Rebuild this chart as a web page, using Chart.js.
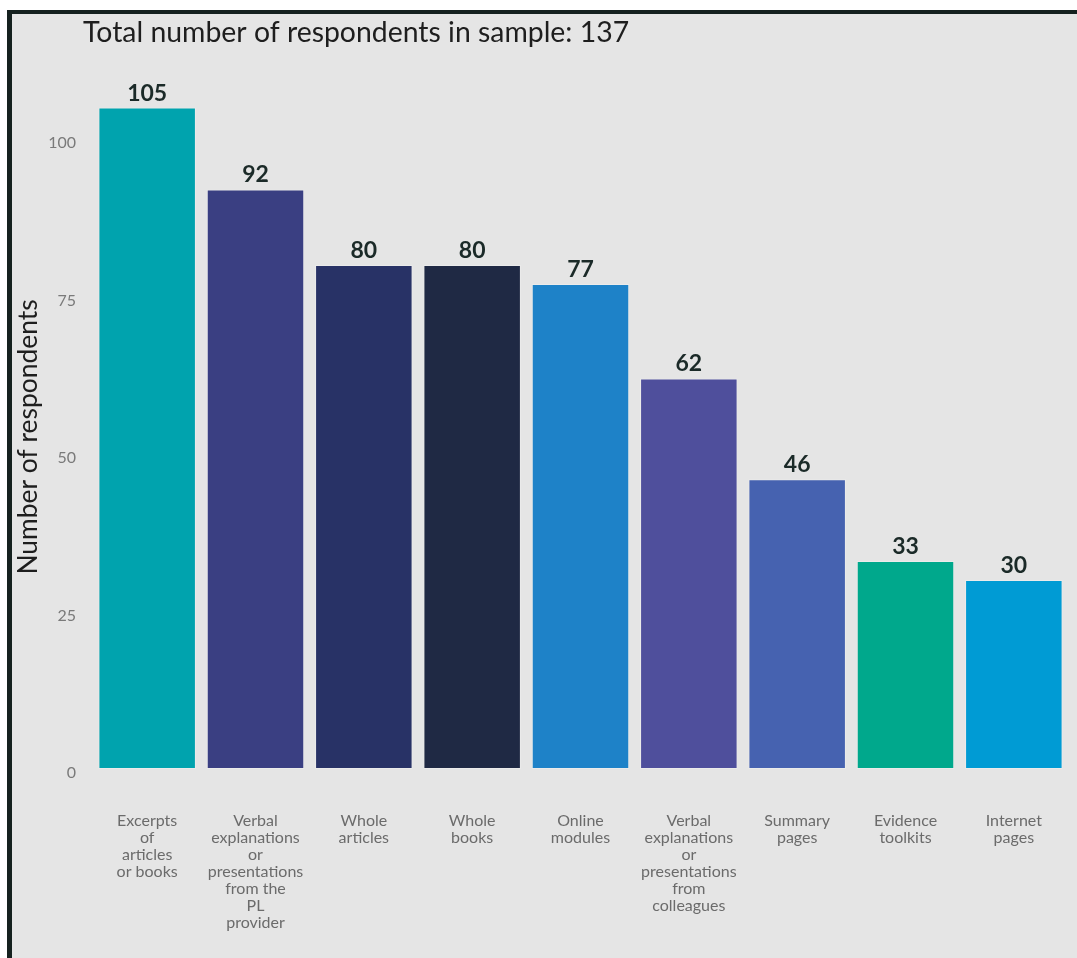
<!DOCTYPE html>
<html>
<head>
<meta charset="utf-8">
<title>Formats of research evidence used</title>
<script src="https://cdn.jsdelivr.net/npm/chart.js@4/dist/chart.umd.min.js"></script>
<style>
  html, body { margin: 0; padding: 0; background: #ffffff; }
  #frame {
    position: absolute; left: 7px; top: 10px;
    width: 1065px; height: 944px;
    background: #e5e5e5;
    border-top: 4px solid #15211f;
    border-left: 5px solid #15211f;
  }
  #wrap { position: absolute; left: 0; top: 0; width: 1077px; height: 958px; }
</style>
</head>
<body>
<div id="frame"></div>
<div id="wrap"><canvas id="chart" width="1077" height="958"></canvas></div>
<script>
// Formats of evidence and how many respondents reported using each
const headline = 'Total number of respondents in sample: 137';
const axisTitle = 'Number of respondents';
const categories = [
  ['Excerpts', 'of', 'articles', 'or books'],
  ['Verbal', 'explanations', 'or', 'presentations', 'from the', 'PL', 'provider'],
  ['Whole', 'articles'],
  ['Whole', 'books'],
  ['Online', 'modules'],
  ['Verbal', 'explanations', 'or', 'presentations', 'from', 'colleagues'],
  ['Summary', 'pages'],
  ['Evidence', 'toolkits'],
  ['Internet', 'pages']
];
const respondents = [105, 92, 80, 80, 77, 62, 46, 33, 30];
const barColors = ['#00a3ae', '#3a3f82', '#283266', '#1f2944', '#1e82c8', '#4f4f9c', '#4662b0', '#00a88c', '#009bd4'];
const yTicks = [0, 25, 50, 75, 100];

const FONT = 'Lato, "Open Sans", sans-serif';

// Headline at the top left and the rotated y-axis caption
const captions = {
  id: 'captions',
  afterDraw(chart) {
    const ctx = chart.ctx;
    ctx.save();
    ctx.font = '28.4px ' + FONT;
    ctx.fillStyle = '#1e1e1e';
    ctx.textAlign = 'left';
    ctx.textBaseline = 'alphabetic';
    ctx.fillText(headline, 83, 42);

    ctx.translate(28, 437);
    ctx.rotate(-Math.PI / 2);
    ctx.font = '26.4px ' + FONT;
    ctx.textAlign = 'center';
    ctx.textBaseline = 'middle';
    ctx.fillText(axisTitle, 0, 0);
    ctx.restore();
  }
};

// Value printed above each bar
const valueLabels = {
  id: 'valueLabels',
  afterDatasetsDraw(chart) {
    const ctx = chart.ctx;
    const meta = chart.getDatasetMeta(0);
    ctx.save();
    ctx.font = 'bold 23px ' + FONT;
    ctx.fillStyle = '#1b2a28';
    ctx.textAlign = 'center';
    ctx.textBaseline = 'alphabetic';
    meta.data.forEach((bar, i) => {
      ctx.fillText(String(respondents[i]), bar.x, bar.y - 7);
    });
    ctx.restore();
  }
};

new Chart(document.getElementById('chart'), {
  type: 'bar',
  data: {
    labels: categories,
    datasets: [{
      data: respondents,
      backgroundColor: barColors,
      borderColor: 'rgba(255,255,255,0.25)',
      borderWidth: 1,
      borderSkipped: false,
      categoryPercentage: 1,
      barPercentage: 0.9
    }]
  },
  options: {
    responsive: false,
    animation: false,
    layout: { padding: { left: 12, top: 76, right: 9, bottom: 0 } },
    plugins: {
      legend: { display: false },
      tooltip: { enabled: false }
    },
    scales: {
      x: {
        grid: { display: false, drawTicks: false },
        border: { display: false },
        ticks: {
          autoSkip: false,
          maxRotation: 0,
          minRotation: 0,
          padding: 43,
          color: '#6b6b6b',
          font: { family: FONT, size: 16, lineHeight: 17 / 16 }
        },
        afterFit(scale) {
          scale.height = 189;
          scale.paddingLeft = 0;
          scale.paddingRight = 0;
        }
      },
      y: {
        min: 0,
        max: 110,
        grid: { display: false, drawTicks: false },
        border: { display: false },
        afterBuildTicks(scale) { scale.ticks = yTicks.map(v => ({ value: v })); },
        ticks: {
          padding: 17,
          labelOffset: 4,
          color: '#7a7a7a',
          font: { family: FONT, size: 16 }
        },
        afterFit(scale) { scale.width = 81; }
      }
    }
  },
  plugins: [captions, valueLabels]
});
</script>
</body>
</html>
